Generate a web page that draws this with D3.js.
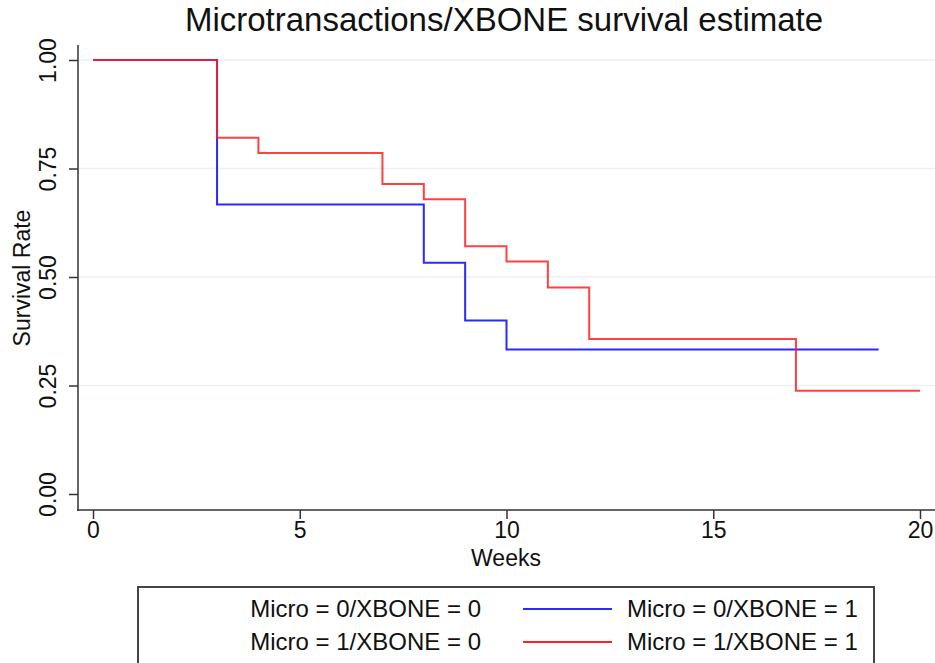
<!DOCTYPE html>
<html lang="en">
<head>
    <meta charset="UTF-8">
    <title>Microtransactions/XBONE survival estimate</title>
    <script src="https://d3js.org/d3.v7.min.js"></script>
    <style>
        body { margin: 0; background: #fff; }
        svg text { font-family: "Liberation Sans", Arial, sans-serif; fill: #111; }
    </style>
</head>
<body>
    <svg id="chart" width="935" height="663"></svg>

    <script>
        // Kaplan-Meier step values: survival after each event week
        const blueWeeks = [0, 3, 8, 9, 10, 19];
        const blueSurv  = [1.0, 0.667, 0.533, 0.40, 0.333, 0.333];
        const redWeeks  = [0, 3, 4, 7, 8, 9, 10, 11, 12, 17, 20];
        const redSurv   = [1.0, 0.821, 0.786, 0.714, 0.679, 0.571, 0.536, 0.476, 0.357, 0.238, 0.238];

        const xTicks = [0, 5, 10, 15, 20];
        const yTicks = [0, 0.25, 0.5, 0.75, 1];
        const legendLabels = ["Micro = 0/XBONE = 0", "Micro = 0/XBONE = 1", "Micro = 1/XBONE = 0", "Micro = 1/XBONE = 1"];

        const svg = d3.select("#chart");
        const x = d3.scaleLinear().domain([0, 20]).range([93, 920]);
        const y = d3.scaleLinear().domain([0, 1]).range([494, 60]);

        // grid
        svg.append("g").selectAll("line")
            .data(yTicks.filter(d => d > 0))
            .enter().append("line")
            .attr("x1", 79).attr("x2", 935)
            .attr("y1", d => y(d)).attr("y2", d => y(d))
            .attr("stroke", "#eaf2f3").attr("stroke-width", 1.5);

        // axes
        const yAxis = svg.append("g")
            .attr("transform", "translate(78,0)")
            .call(d3.axisLeft(y).tickValues(yTicks).tickFormat(d3.format(".2f")).tickSize(9));
        const xAxis = svg.append("g")
            .attr("transform", "translate(0,510)")
            .call(d3.axisBottom(x).tickValues(xTicks).tickSize(9).tickPadding(3));
        [yAxis, xAxis].forEach(a => {
            a.select(".domain").remove();
            a.selectAll(".tick line").attr("stroke", "#333").attr("stroke-width", 1.5);
            a.selectAll("text").style("font-size", "23px").attr("fill", "#111");
        });
        // rotated y tick labels
        yAxis.selectAll(".tick text")
            .attr("text-anchor", "middle")
            .attr("transform", "rotate(-90)")
            .attr("x", 0).attr("y", -22).attr("dy", 0);

        svg.append("line").attr("x1", 78).attr("x2", 78).attr("y1", 45).attr("y2", 511)
            .attr("stroke", "#333").attr("stroke-width", 1.5);
        svg.append("line").attr("x1", 77).attr("x2", 935).attr("y1", 510).attr("y2", 510)
            .attr("stroke", "#333").attr("stroke-width", 1.5);

        // labels
        svg.append("text").attr("x", 504).attr("y", 31).attr("text-anchor", "middle")
            .style("font-size", "33px").text("Microtransactions/XBONE survival estimate");
        svg.append("text").attr("x", 506).attr("y", 566).attr("text-anchor", "middle")
            .style("font-size", "23px").text("Weeks");
        svg.append("text").attr("transform", "translate(30,278) rotate(-90)").attr("text-anchor", "middle")
            .style("font-size", "23px").text("Survival Rate");

        // survival curves
        const step = d3.line().x(d => x(d[0])).y(d => y(d[1])).curve(d3.curveStepAfter);
        svg.append("path").datum(d3.zip(blueWeeks, blueSurv))
            .attr("d", step).attr("fill", "none").attr("stroke", "#2a2aff").attr("stroke-width", 2);
        svg.append("path").datum(d3.zip(redWeeks, redSurv))
            .attr("d", step).attr("fill", "none").attr("stroke", "#ff2020").attr("stroke-opacity", 0.85).attr("stroke-width", 2);

        // legend
        const lg = svg.append("g");
        lg.append("rect").attr("x", 138).attr("y", 587).attr("width", 736).attr("height", 90)
            .attr("fill", "#fff").attr("stroke", "#444").attr("stroke-width", 2);
        const rows = [608, 641];
        const sampleColors = ["#2a2aff", "#ff2020"];
        rows.forEach((ry, i) => {
            lg.append("text").attr("x", 481).attr("y", ry + 8.5).attr("text-anchor", "end")
                .style("font-size", "24px").text(legendLabels[i * 2]);
            lg.append("line").attr("x1", 523).attr("x2", 612).attr("y1", ry + 1).attr("y2", ry + 1)
                .attr("stroke", sampleColors[i]).attr("stroke-width", 2);
            lg.append("text").attr("x", 627).attr("y", ry + 8.5)
                .style("font-size", "24px").text(legendLabels[i * 2 + 1]);
        });
    </script>
</body>
</html>
